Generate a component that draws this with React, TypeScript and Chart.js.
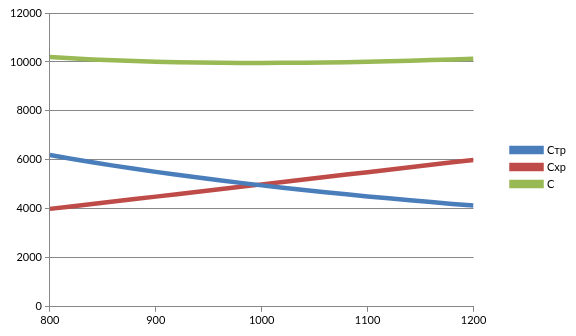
import React, { useEffect, useRef } from "react";
import { Chart, registerables } from "chart.js";

Chart.register(...registerables);

const xValues = [800, 820, 840, 860, 880, 900, 920, 940, 960, 980, 1000, 1020, 1040, 1060, 1080, 1100, 1120, 1140, 1160, 1180, 1200];
const strValues = [6200, 6049, 5905, 5767, 5636, 5511, 5391, 5277, 5167, 5061, 4960, 4863, 4769, 4679, 4593, 4509, 4429, 4351, 4276, 4203, 4133];
const hrValues = [4000, 4100, 4200, 4300, 4400, 4500, 4600, 4700, 4800, 4900, 5000, 5100, 5200, 5300, 5400, 5500, 5600, 5700, 5800, 5900, 6000];
const cValues = [10200, 10149, 10105, 10067, 10036, 10011, 9991, 9977, 9967, 9961, 9960, 9963, 9969, 9979, 9993, 10009, 10029, 10051, 10076, 10103, 10133];
const seriesNames = ["Стр", "Cхр", "C"];
const seriesColors = ["#4A7EBB", "#BE4B48", "#98B954"];

export default function App() {
  const ref = useRef<HTMLCanvasElement | null>(null);
  useEffect(() => {
    document.body.style.margin = "0";
    const canvas = ref.current!;
    const series = [strValues, hrValues, cValues];
    const font = { family: "Lato", size: 11 };
    const chart = new Chart(canvas, {
      type: "line",
      data: {
        datasets: series.map((vals, i) => ({
          label: seriesNames[i],
          data: vals.map((v, j) => ({ x: xValues[j], y: v })),
          borderColor: seriesColors[i],
          backgroundColor: seriesColors[i],
          borderWidth: 4.5,
          pointRadius: 0,
          tension: 0,
        })),
      },
      plugins: [
        {
          id: "legendNudge",
          afterLayout(c: any) {
            if (c.legend) {
              c.legend.top -= 4;
              c.legend.bottom -= 4;
            }
          },
        },
      ],
      options: {
        responsive: false,
        animation: false,
        layout: { padding: { left: 7, right: 0, top: 13, bottom: 7 } },
        plugins: {
          tooltip: { enabled: false },
          legend: {
            position: "right",
            labels: {
              boxWidth: 30,
              boxHeight: 4,
              padding: 6,
              color: "#000",
              font,
            },
          },
        },
        scales: {
          x: {
            type: "linear",
            min: 800,
            max: 1200,
            ticks: { stepSize: 100, color: "#000", font, padding: 2, callback: (v: any) => String(v) },
            grid: { drawOnChartArea: false, tickLength: 5, color: "#878787" },
            border: { color: "#878787" },
          },
          y: {
            min: 0,
            max: 12000,
            ticks: { stepSize: 2000, color: "#000", font, padding: 3, callback: (v: any) => String(v) },
            grid: { color: "#878787", tickLength: 5 },
            border: { color: "#878787" },
          },
          gap: {
            type: "linear",
            position: "right",
            display: true,
            ticks: { display: false },
            grid: { display: false, drawTicks: false },
            border: { display: false },
            afterFit: (s: any) => {
              s.width = 32;
            },
          },
        },
      },
    });
    return () => chart.destroy();
  }, []);
  return (
    <div style={{ position: "absolute", left: 0, top: 0, width: 576, height: 336 }}>
      <canvas ref={ref} width={576} height={336} />
    </div>
  );
}
